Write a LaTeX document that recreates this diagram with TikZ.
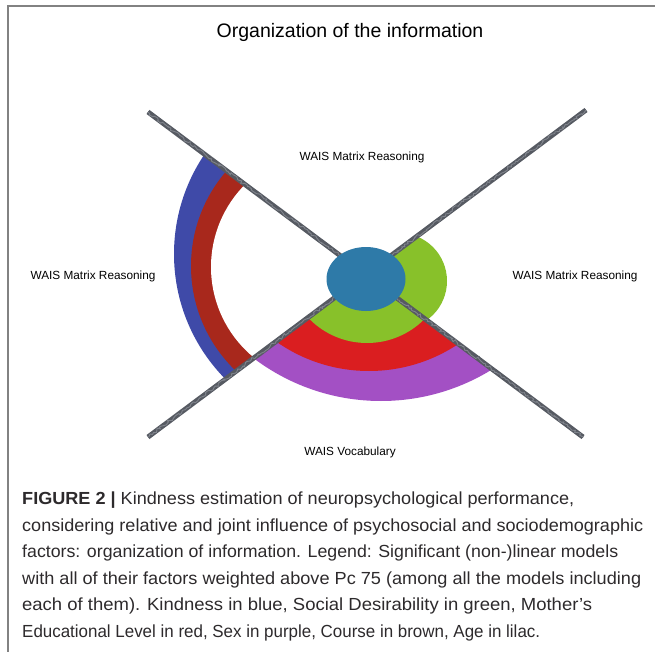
\documentclass[tikz,border=0pt]{standalone}
\usepackage{fontspec}
\usepackage{graphicx}
\setmainfont{Liberation Sans}
\usetikzlibrary{decorations.pathmorphing,shapes.geometric}

\definecolor{axisgray}{RGB}{86,90,98}
\definecolor{axislight}{RGB}{128,132,140}
\definecolor{framegray}{RGB}{130,130,130}
\definecolor{kindblue}{RGB}{46,122,168}
\definecolor{desgreen}{RGB}{136,193,42}
\definecolor{edured}{RGB}{218,30,32}
\definecolor{sexpurple}{RGB}{163,80,196}
\definecolor{agelilac}{RGB}{63,74,168}
\definecolor{coursebrown}{RGB}{168,40,28}
\definecolor{captext}{RGB}{45,42,44}

\tikzset{
  axisline/.style={draw=axisgray, line width=5pt},
  axisedge/.style={draw=axisgray, line width=1.6pt,
    decorate, decoration={random steps, segment length=1.8pt, amplitude=1.1pt}},
  axisgrain/.style={draw=axislight, line width=0.9pt,
    decorate, decoration={random steps, segment length=2pt, amplitude=1.5pt}},
  framestroke/.style={draw=framegray, line width=1.8pt},
  axislabel/.style={font=\fontsize{11.8}{14}\selectfont, inner sep=0pt},
  capline/.style={anchor=base west, inner sep=0pt, text=captext,
    font=\fontsize{17.5}{21}\selectfont},
}

\begin{document}
\begin{tikzpicture}[x=1pt,y=-1pt]
\useasboundingbox (0,0) rectangle (655,652);

% frame on the top and left
\draw[framestroke] (655,6) -- (8,6) -- (8,652);

% title
\node[font=\fontsize{19.5}{23}\selectfont, inner sep=0pt] (title) at (350,32) {Organization of the information};

% centre of the cross and the ends of its two arms
\coordinate (C) at (366,275);
\coordinate (UL) at (148,112);
\coordinate (LR) at (583,437);
\coordinate (LL) at (148,437);
\coordinate (UR) at (586,110);

% left sector: lilac and brown bands
\begin{scope}
  \clip (C) -- (UL) -- (LL) -- cycle;
  \fill[agelilac] (352,254) circle[radius=178pt];
  \fill[coursebrown] (336,266) circle[radius=145pt];
  \fill[white] (328,267) circle[radius=117pt];
\end{scope}

% lower sector: purple, red and green bands
\begin{scope}
  \clip (C) -- (LL) -- (LR) -- cycle;
  \fill[sexpurple] (381,190) circle[radius=211pt];
  \fill[edured] (369,210) circle[radius=161pt];
  \fill[desgreen] (367,262) circle[radius=81pt];
\end{scope}

% right sector: green band
\begin{scope}
  \clip (C) -- (UR) -- (LR) -- cycle;
  \fill[desgreen] (399,281) circle[radius=48pt];
\end{scope}

% the two crossing axes, drawn like a charcoal stroke
\pgfmathsetseed{7}
\draw[axisline] (UL) -- (LR);
\draw[axisline] (LL) -- (UR);
\draw[axisedge, shift={(-1.9,2.5)}] (UL) -- (LR);
\draw[axisedge, shift={(1.9,-2.5)}] (UL) -- (LR);
\draw[axisedge, shift={(1.9,2.5)}] (LL) -- (UR);
\draw[axisedge, shift={(-1.9,-2.5)}] (LL) -- (UR);
\draw[axisgrain] (UL) -- (LR);
\draw[axisgrain] (LL) -- (UR);

% central ellipse
\node[ellipse, fill=kindblue, minimum width=79pt, minimum height=64pt, inner sep=0pt] (kind) at (366,279) {};

% axis labels
\node[axislabel] (top) at (362,157) {WAIS Matrix Reasoning};
\node[axislabel] (left) at (93,276) {WAIS Matrix Reasoning};
\node[axislabel] (right) at (575,276) {WAIS Matrix Reasoning};
\node[axislabel] (bottom) at (350,452) {WAIS Vocabulary};

% caption
\node[capline] (cap1) at (22,504) {\resizebox{552pt}{\height}{\textbf{FIGURE 2 |} Kindness estimation of neuropsychological performance,}};
\node[capline] (cap2) at (22,531) {\resizebox{621pt}{\height}{considering relative and joint influence of psychosocial and sociodemographic}};
\node[capline] (cap3) at (22,557) {\resizebox{596pt}{\height}{factors: organization of information. Legend: Significant (non-)linear models}};
\node[capline] (cap4) at (22,584) {\resizebox{619pt}{\height}{with all of their factors weighted above Pc 75 (among all the models including}};
\node[capline] (cap5) at (22,610) {\resizebox{570pt}{\height}{each of them). Kindness in blue, Social Desirability in green, Mother’s}};
\node[capline] (cap6) at (22,637) {\resizebox{518pt}{\height}{Educational Level in red, Sex in purple, Course in brown, Age in lilac.}};
\end{tikzpicture}
\end{document}
